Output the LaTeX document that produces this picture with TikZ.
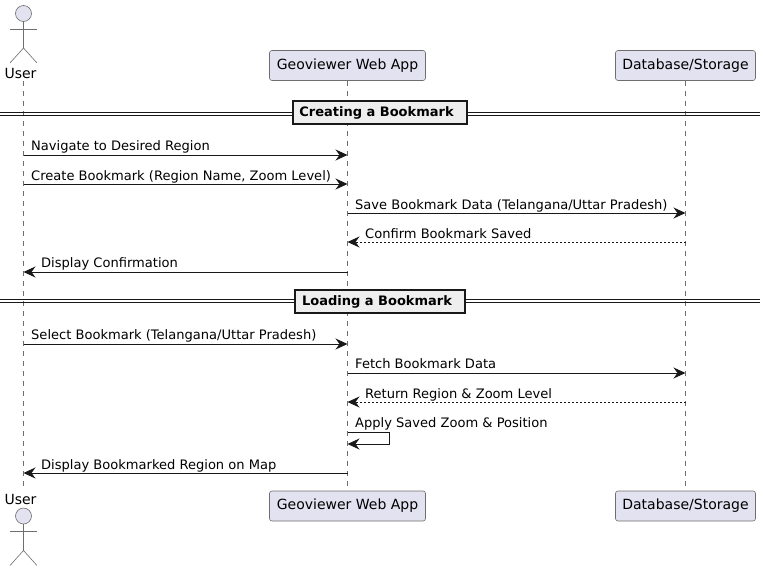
\documentclass[tikz,border=0pt]{standalone}
\usepackage{fontspec}
\setmainfont{DejaVu Sans}
\usetikzlibrary{arrows.meta}
\definecolor{PartFill}{RGB}{226, 226, 240}
\definecolor{PartLine}{RGB}{24, 24, 24}
\definecolor{ThinLine}{RGB}{110, 110, 110}
\definecolor{DivFill}{RGB}{238, 238, 238}
\tikzstyle{part} = [rectangle, rounded corners=2.5pt, minimum height=30pt, inner sep=0pt, text centered, draw=ThinLine, fill=PartFill, line width=0.6pt, font=\fontsize{14}{16}\selectfont]
\tikzstyle{head} = [circle, minimum size=16pt, inner sep=0pt, draw=ThinLine, fill=PartFill, line width=0.6pt]
\tikzstyle{limb} = [draw=ThinLine, line width=0.6pt]
\tikzstyle{who} = [font=\fontsize{14}{16}\selectfont, anchor=base, inner sep=0pt]
\tikzstyle{life} = [draw=ThinLine, line width=0.6pt, dash pattern=on 5pt off 5pt]
\tikzstyle{divbox} = [rectangle, draw=PartLine, fill=DivFill, line width=1.5pt, inner sep=0pt, minimum height=23pt, font=\fontsize{13}{15}\selectfont\bfseries]
\tikzstyle{divline} = [draw=PartLine, line width=0.9pt]
\tikzstyle{msg} = [font=\fontsize{13.05}{15}\selectfont, anchor=base west, inner sep=0pt, text=black]
\tikzstyle{arrow} = [draw=PartLine, line width=0.9pt, -{Stealth[length=12pt, width=11pt, inset=4pt]}]
\tikzstyle{reply} = [arrow, dash pattern=on 2pt off 2pt]

\begin{document}
\begin{tikzpicture}[x=1pt, y=-1pt]
\useasboundingbox (0,0) rectangle (766,571);

% Lifelines
\coordinate (usertop) at (23.5,81);
\coordinate (userbot) at (23.5,490);
\draw [life] (usertop) -- (userbot);
\node (webtop) [part, minimum width=156pt] at (347.5,65.5) {Geoviewer Web App};
\node (webbot) [part, minimum width=156pt] at (347.5,506) {Geoviewer Web App};
\node (dbtop) [part, minimum width=140pt] at (685.5,65.5) {Database/Storage};
\node (dbbot) [part, minimum width=140pt] at (685.5,506) {Database/Storage};
\draw [life] (webtop) -- (webbot);
\draw [life] (dbtop) -- (dbbot);

% Actor top
\node (headtop) [head] at (23.5,13.5) {};
\coordinate (hiptop) at (23.5,48);
\draw [limb] (headtop) -- (hiptop);
\draw [limb] (10,29) -- (37,29);
\draw [limb] (10,63) -- (hiptop) -- (37,63);
\node (usertxt) [who] at (20.5,78) {User};

% Actor bottom
\node (headbot) [head] at (23.5,516) {};
\coordinate (hipbot) at (23.5,550.5);
\draw [limb] (headbot) -- (hipbot);
\draw [limb] (10,531) -- (37,531);
\draw [limb] (10,565.5) -- (hipbot) -- (37,565.5);
\node (userbtxt) [who] at (20.5,504) {User};

% Dividers
\coordinate (d1a) at (0,112.5);
\coordinate (d1b) at (760,112.5);
\coordinate (d1c) at (0,115.5);
\coordinate (d1d) at (760,115.5);
\coordinate (d2a) at (0,299.5);
\coordinate (d2b) at (760,299.5);
\coordinate (d2c) at (0,302.5);
\coordinate (d2d) at (760,302.5);
\draw [divline] (d1a) -- (d1b);
\draw [divline] (d1c) -- (d1d);
\draw [divline] (d2a) -- (d2b);
\draw [divline] (d2c) -- (d2d);
\node (create) [divbox, minimum width=174pt] at (380,112.5) {Creating a Bookmark\hspace{7pt}\mbox{}};
\node (load) [divbox, minimum width=170pt] at (380,301.5) {Loading a Bookmark\hspace{6pt}\mbox{}};

% Ends of the messages
\foreach \y/\n in {155/a, 184/b, 213/c, 242/d, 272/e, 344/f, 373/g, 402/h, 444/i, 473/j} {
  \coordinate (u\n) at (23.5,\y);
  \coordinate (w\n) at (347.5,\y);
  \coordinate (s\n) at (685.5,\y);
}
\coordinate (loopa) at (389.5,432);
\coordinate (loopb) at (389.5,444);
\coordinate (loops) at (347.5,432);

% Messages
\draw [arrow] (ua) -- (wa);
\draw [arrow] (ub) -- (wb);
\draw [arrow] (wc) -- (sc);
\draw [reply] (sd) -- (wd);
\draw [arrow] (we) -- (ue);
\draw [arrow] (uf) -- (wf);
\draw [arrow] (wg) -- (sg);
\draw [reply] (sh) -- (wh);
\draw [arrow] (loops) -- (loopa) -- (loopb) -- (wi);
\draw [arrow] (wj) -- (uj);

% Labels
\node (m1) [msg] at (31,150) {Navigate to Desired Region};
\node (m2) [msg] at (31,180) {Create Bookmark (Region Name, Zoom Level)};
\node (m3) [msg] at (355,209) {Save Bookmark Data (Telangana/Uttar Pradesh)};
\node (m4) [msg] at (365,238) {Confirm Bookmark Saved};
\node (m5) [msg] at (41,267) {Display Confirmation};
\node (m6) [msg] at (31,339) {Select Bookmark (Telangana/Uttar Pradesh)};
\node (m7) [msg] at (355,368) {Fetch Bookmark Data};
\node (m8) [msg] at (365,398) {Return Region \& Zoom Level};
\node (m9) [msg] at (355,427) {Apply Saved Zoom \& Position};
\node (m10) [msg] at (41,469) {Display Bookmarked Region on Map};

\end{tikzpicture}
\end{document}
